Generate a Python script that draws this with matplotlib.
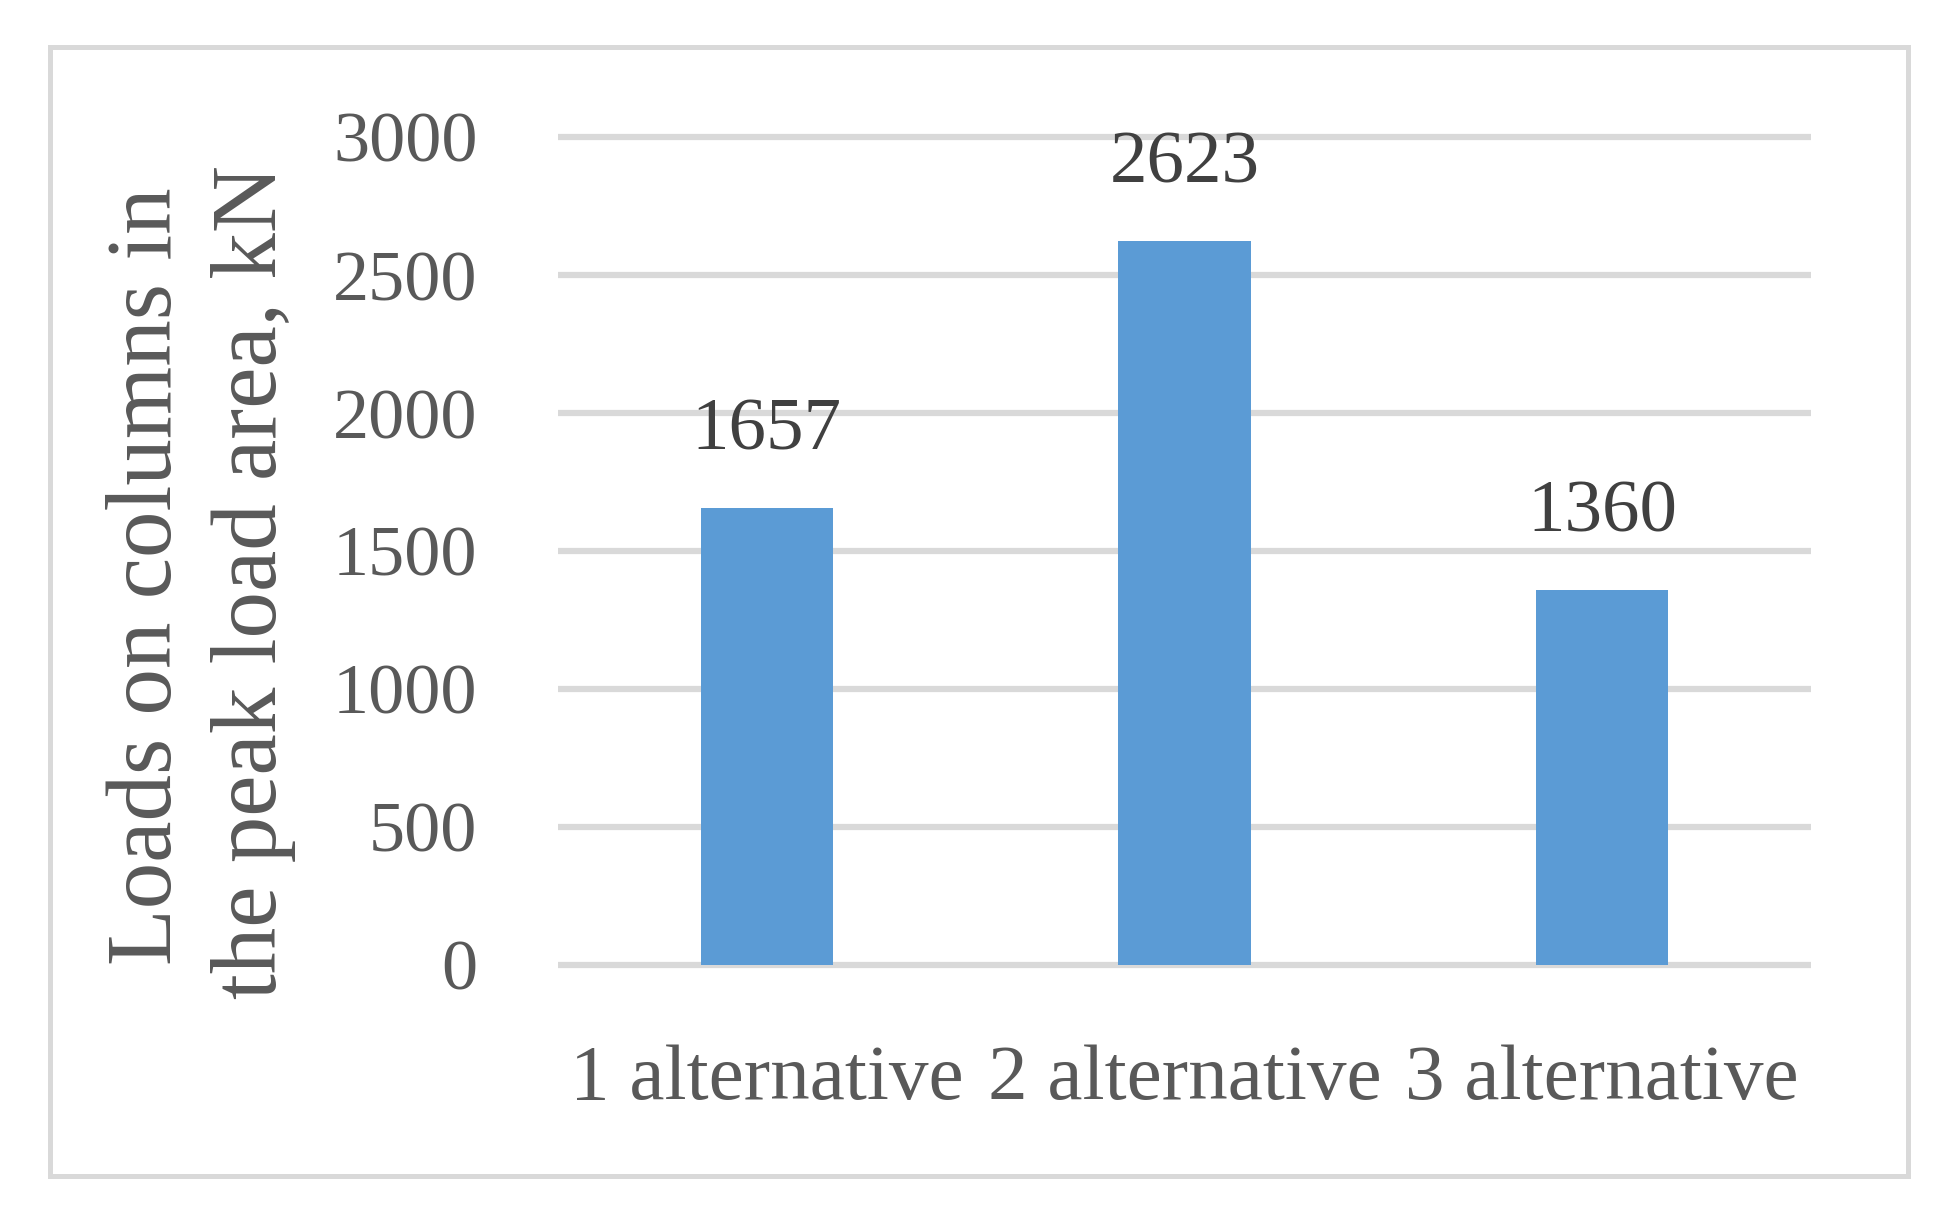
import matplotlib
matplotlib.use("Agg")
import matplotlib.pyplot as plt
from matplotlib.patches import Rectangle

categories = ["1 alternative", "2 alternative", "3 alternative"]
values = [1657, 2623, 1360]
yticks = [0, 500, 1000, 1500, 2000, 2500, 3000]
ylabel_lines = ["Loads on columns in", "the peak load area, kN"]

W, H = 1958, 1218
DPI = 100
plt.rcParams['font.family'] = ['Liberation Serif', 'DejaVu Serif']

fig = plt.figure(figsize=(W / DPI, H / DPI), dpi=DPI)
fig.patch.set_facecolor('white')

# outer border
fig.patches.append(Rectangle((50 / W, 1 - 1176 / H), (1908 - 50) / W, (1176 - 47) / H,
                             transform=fig.transFigure, fill=False,
                             edgecolor='#D9D9D9', linewidth=3.6, zorder=0))

left, right = 558 / W, 1811 / W
bottom, top = 1 - 965 / H, 1 - 137 / H
ax = fig.add_axes([left, bottom, right - left, top - bottom])

x = list(range(len(categories)))
ax.bar(x, values, width=0.317, color='#5B9BD5', zorder=3)
ax.set_xlim(-0.5, len(categories) - 0.5)
ax.set_ylim(0, 3000)
ax.set_yticks(yticks)
ax.set_yticklabels([str(t) for t in yticks])
ax.set_xticks(x)
ax.set_xticklabels(categories)

for s in ax.spines.values():
    s.set_visible(False)
ax.tick_params(axis='both', length=0, colors='#595959')
ax.tick_params(axis='y', labelsize=52, pad=58)
ax.tick_params(axis='x', labelsize=57, pad=57)
for t in ax.get_xticklabels() + ax.get_yticklabels():
    t.set_color('#595959')

ax.yaxis.grid(True, color='#D9D9D9', linewidth=4.5, zorder=0)
for gl in ax.get_ygridlines():
    gl.set_clip_on(False)
    gl.set_solid_capstyle('butt')
ax.set_axisbelow(True)
ax.set_facecolor('none')

for xi, v in zip(x, values):
    ax.annotate(str(v), (xi, v), xytext=(0, 42), textcoords='offset points',
                ha='center', va='baseline', fontsize=54, color='#404040',
                annotation_clip=False)

label_x = [149 / W, 254 / W]
label_y = [1 - 576 / H, 1 - 582 / H]
for txt, lx, ly in zip(ylabel_lines, label_x, label_y):
    fig.text(lx, ly, txt, rotation=90, ha='center', va='center',
             fontsize=67, color='#595959')

fig.savefig('out.png', dpi=DPI, facecolor='white')
